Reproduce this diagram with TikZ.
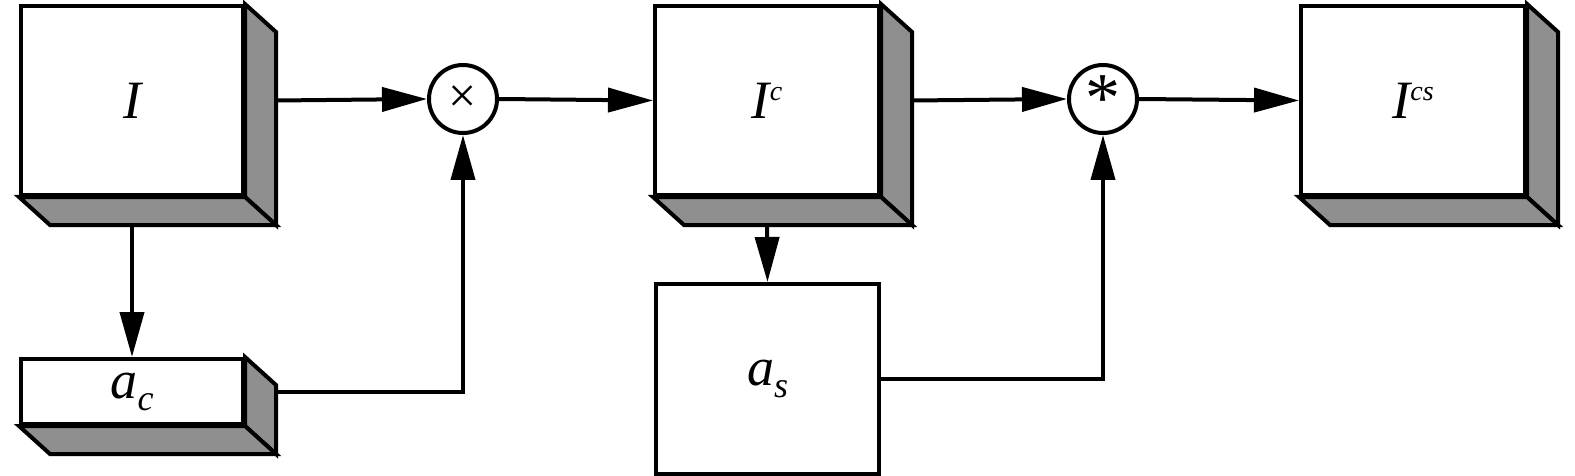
\documentclass[tikz,border=0pt]{standalone}
\usepackage{fontspec}
\setmainfont{Liberation Serif}
\usetikzlibrary{arrows.meta}
\definecolor{facegray}{gray}{0.56}
\begin{document}
\begin{tikzpicture}[x=1pt,y=-1pt,
  box/.style={draw, line width=4pt, fill=white, inner sep=0pt, anchor=north west,
    font=\fontsize{54}{54}\selectfont\itshape},
  face/.style={fill=facegray, draw, line width=4pt, line join=miter},
  op/.style={draw, circle, line width=4pt, minimum size=68pt, inner sep=0pt},
  conn/.style={line width=4pt, -{Triangle[length=45pt,width=24pt]}}]
\useasboundingbox (0,0) rectangle (1575,476);

\node[box, minimum width=222pt, minimum height=189pt] (I) at (19,4) {I};
\node[box, minimum width=222pt, minimum height=65pt] (ac) at (19,357)
  {a\raisebox{-12pt}{\fontsize{36}{36}\selectfont c}};
\node[box, minimum width=224pt, minimum height=189pt] (Ic) at (653,4)
  {I\raisebox{18pt}{\fontsize{28}{28}\selectfont c}};
\node[box, minimum width=223pt, minimum height=190pt] (as) at (654,282)
  {a\raisebox{-12pt}{\fontsize{36}{36}\selectfont s}};
\node[box, minimum width=224pt, minimum height=189pt] (Ics) at (1299,4)
  {I\raisebox{18pt}{\fontsize{28}{28}\selectfont cs}};

\foreach \n in {I,ac,Ic,Ics} {
  \draw[face] (\n.north east) -- ++(31,28) -- ([shift={(31,28)}]\n.south east)
     -- (\n.south east) -- cycle;
  \draw[face] (\n.south west) -- (\n.south east) -- ([shift={(31,28)}]\n.south east)
     -- ([shift={(31,28)}]\n.south west) -- cycle;
}

\node[op] (mul) at (463,99) {\fontsize{50}{50}\selectfont ×};
\node[op] (conv) at (1103,99) {\fontsize{70}{70}\selectfont\raisebox{-0.27em}{*}};

\draw[conn] ([xshift=31pt]I.east) -- (mul.west);
\draw[conn] (mul.east) -- (Ic.west);
\draw[conn] ([yshift=-28pt]I.south) -- (ac.north);
\draw[conn] ([xshift=31pt]ac.east) -| (mul.south);
\draw[conn] ([xshift=31pt]Ic.east) -- (conv.west);
\draw[conn] (conv.east) -- (Ics.west);
\draw[conn] ([yshift=-28pt]Ic.south) -- (as.north);
\draw[conn] (as.east) -| (conv.south);
\end{tikzpicture}
\end{document}
